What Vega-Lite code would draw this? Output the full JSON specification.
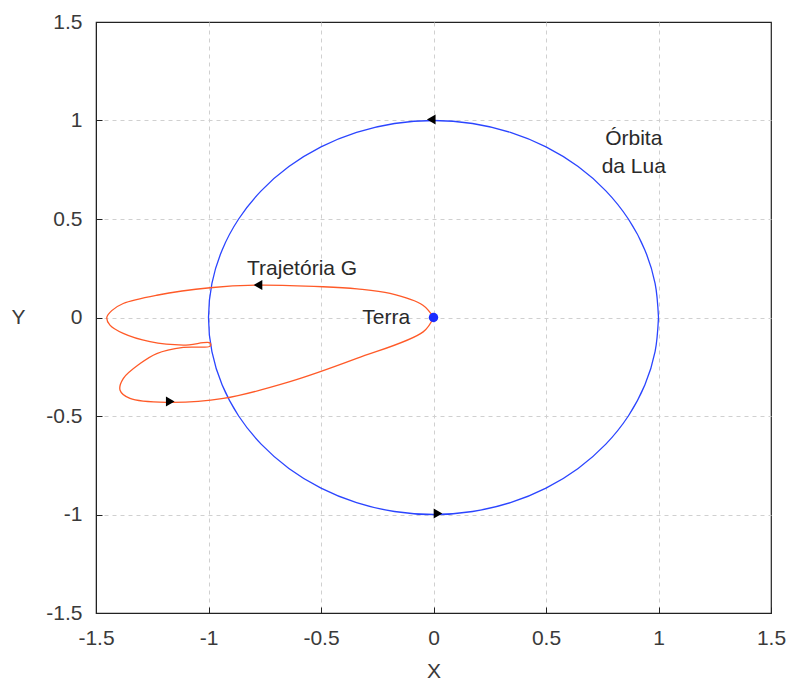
{
  "$schema": "https://vega.github.io/schema/vega-lite/v6.json",
  "width": 675,
  "height": 591,
  "autosize": "none",
  "padding": {"left": 96, "top": 22, "right": 20, "bottom": 73},
  "background": "white",
  "config": {
    "view": {"stroke": "#222", "strokeWidth": 1.2},
    "font": "Liberation Sans",
    "axis": {
      "labelFont": "Liberation Sans",
      "labelFontSize": 21,
      "labelColor": "#3a3a3a",
      "labelFlush": false,
      "labelOverlap": false,
      "titleFont": "Liberation Sans",
      "titleFontSize": 21,
      "titleFontWeight": "normal",
      "titleColor": "#3a3a3a",
      "domainColor": "#222",
      "tickColor": "#222",
      "tickSize": -6,
      "gridColor": "#d0d0d0",
      "gridDash": [4, 4],
      "gridWidth": 1,
      "gridOpacity": {"condition": {"test": "abs(datum.value) == 1.5", "value": 0}, "value": 1}
    }
  },
  "datasets": {
    "lines": [
      {"series": "lua", "order": 0, "x": 1.0, "y": 0.0},
      {"series": "lua", "order": 1, "x": 0.9848, "y": 0.1736},
      {"series": "lua", "order": 2, "x": 0.9397, "y": 0.342},
      {"series": "lua", "order": 3, "x": 0.866, "y": 0.5},
      {"series": "lua", "order": 4, "x": 0.766, "y": 0.6428},
      {"series": "lua", "order": 5, "x": 0.6428, "y": 0.766},
      {"series": "lua", "order": 6, "x": 0.5, "y": 0.866},
      {"series": "lua", "order": 7, "x": 0.342, "y": 0.9397},
      {"series": "lua", "order": 8, "x": 0.1736, "y": 0.9848},
      {"series": "lua", "order": 9, "x": 0.0, "y": 1.0},
      {"series": "lua", "order": 10, "x": -0.1736, "y": 0.9848},
      {"series": "lua", "order": 11, "x": -0.342, "y": 0.9397},
      {"series": "lua", "order": 12, "x": -0.5, "y": 0.866},
      {"series": "lua", "order": 13, "x": -0.6428, "y": 0.766},
      {"series": "lua", "order": 14, "x": -0.766, "y": 0.6428},
      {"series": "lua", "order": 15, "x": -0.866, "y": 0.5},
      {"series": "lua", "order": 16, "x": -0.9397, "y": 0.342},
      {"series": "lua", "order": 17, "x": -0.9848, "y": 0.1736},
      {"series": "lua", "order": 18, "x": -1.0, "y": 0.0},
      {"series": "lua", "order": 19, "x": -0.9848, "y": -0.1736},
      {"series": "lua", "order": 20, "x": -0.9397, "y": -0.342},
      {"series": "lua", "order": 21, "x": -0.866, "y": -0.5},
      {"series": "lua", "order": 22, "x": -0.766, "y": -0.6428},
      {"series": "lua", "order": 23, "x": -0.6428, "y": -0.766},
      {"series": "lua", "order": 24, "x": -0.5, "y": -0.866},
      {"series": "lua", "order": 25, "x": -0.342, "y": -0.9397},
      {"series": "lua", "order": 26, "x": -0.1736, "y": -0.9848},
      {"series": "lua", "order": 27, "x": 0.0, "y": -1.0},
      {"series": "lua", "order": 28, "x": 0.1736, "y": -0.9848},
      {"series": "lua", "order": 29, "x": 0.342, "y": -0.9397},
      {"series": "lua", "order": 30, "x": 0.5, "y": -0.866},
      {"series": "lua", "order": 31, "x": 0.6428, "y": -0.766},
      {"series": "lua", "order": 32, "x": 0.766, "y": -0.6428},
      {"series": "lua", "order": 33, "x": 0.866, "y": -0.5},
      {"series": "lua", "order": 34, "x": 0.9397, "y": -0.342},
      {"series": "lua", "order": 35, "x": 0.9848, "y": -0.1736},
      {"series": "lua", "order": 36, "x": 1.0, "y": 0.0}
    ],
    "traj": [
      {"order": 0, "x": 0.0, "y": 0.0},
      {"order": 1, "x": -0.047, "y": 0.062},
      {"order": 2, "x": -0.193, "y": 0.122},
      {"order": 3, "x": -0.34, "y": 0.145},
      {"order": 4, "x": -0.491, "y": 0.156},
      {"order": 5, "x": -0.786, "y": 0.164},
      {"order": 6, "x": -0.993, "y": 0.151},
      {"order": 7, "x": -1.23, "y": 0.113},
      {"order": 8, "x": -1.379, "y": 0.071},
      {"order": 9, "x": -1.43, "y": 0.035},
      {"order": 10, "x": -1.452, "y": 0.0},
      {"order": 11, "x": -1.438, "y": -0.039},
      {"order": 12, "x": -1.379, "y": -0.081},
      {"order": 13, "x": -1.26, "y": -0.123},
      {"order": 14, "x": -1.112, "y": -0.14},
      {"order": 15, "x": -0.993, "y": -0.129},
      {"order": 16, "x": -0.992, "y": -0.145},
      {"order": 17, "x": -1.112, "y": -0.152},
      {"order": 18, "x": -1.23, "y": -0.183},
      {"order": 19, "x": -1.304, "y": -0.234},
      {"order": 20, "x": -1.379, "y": -0.31},
      {"order": 21, "x": -1.393, "y": -0.369},
      {"order": 22, "x": -1.349, "y": -0.411},
      {"order": 23, "x": -1.186, "y": -0.431},
      {"order": 24, "x": -0.934, "y": -0.411},
      {"order": 25, "x": -0.638, "y": -0.326},
      {"order": 26, "x": -0.341, "y": -0.208},
      {"order": 27, "x": -0.046, "y": -0.073},
      {"order": 28, "x": 0.0, "y": 0.0}
    ],
    "arrows": [
      {"x": -0.01, "y": 1.005, "dir": "left"},
      {"x": 0.02, "y": -0.995, "dir": "right"},
      {"x": -0.78, "y": 0.165, "dir": "left"},
      {"x": -1.17, "y": -0.427, "dir": "right"}
    ],
    "labels": [
      {"x": 0.89, "y": 0.905, "text": "Órbita"},
      {"x": 0.89, "y": 0.765, "text": "da Lua"},
      {"x": -0.584, "y": 0.245, "text": "Trajetória G"},
      {"x": -0.21, "y": 0.0, "text": "Terra"}
    ],
    "earth": [{"x": 0.0, "y": 0.0}]
  },
  "layer": [
    {
      "data": {"name": "lines"},
      "mark": {"type": "line", "color": "#2b45ff", "strokeWidth": 1.3, "interpolate": "catmull-rom"},
      "encoding": {
        "x": {
          "field": "x", "type": "quantitative",
          "scale": {"domain": [-1.5, 1.5], "nice": false, "zero": false},
          "axis": {"values": [-1.5, -1, -0.5, 0, 0.5, 1, 1.5], "title": "X", "format": "~g", "labelFlush": false, "labelPadding": 20, "titlePadding": 12, "labelExpr": "replace(datum.label, '−', '-')"}
        },
        "y": {
          "field": "y", "type": "quantitative",
          "scale": {"domain": [-1.5, 1.5], "nice": false, "zero": false},
          "axis": {"values": [-1.5, -1, -0.5, 0, 0.5, 1, 1.5], "title": "Y", "format": "~g", "labelFlush": false, "titleAngle": 0, "titleAnchor": "middle", "titleBaseline": "middle", "titleX": -78, "labelPadding": 20, "labelExpr": "replace(datum.label, '−', '-')"}
        },
        "order": {"field": "order", "type": "quantitative"}
      }
    },
    {
      "data": {"name": "traj"},
      "mark": {"type": "line", "color": "#ff5a28", "strokeWidth": 1.3, "interpolate": "catmull-rom"},
      "encoding": {
        "x": {"field": "x", "type": "quantitative"},
        "y": {"field": "y", "type": "quantitative"},
        "order": {"field": "order", "type": "quantitative"}
      }
    },
    {
      "data": {"name": "arrows"},
      "mark": {"type": "point", "filled": true, "color": "black", "opacity": 1, "size": 100},
      "encoding": {
        "x": {"field": "x", "type": "quantitative"},
        "y": {"field": "y", "type": "quantitative"},
        "shape": {"field": "dir", "type": "nominal", "scale": {"domain": ["left", "right"], "range": ["triangle-left", "triangle-right"]}, "legend": null}
      }
    },
    {
      "data": {"name": "earth"},
      "mark": {"type": "point", "filled": true, "color": "#1a2cff", "opacity": 1, "size": 90},
      "encoding": {
        "x": {"field": "x", "type": "quantitative"},
        "y": {"field": "y", "type": "quantitative"}
      }
    },
    {
      "data": {"name": "labels"},
      "mark": {"type": "text", "font": "Liberation Sans", "fontSize": 21, "color": "#2a2a2a", "align": "center", "baseline": "middle"},
      "encoding": {
        "x": {"field": "x", "type": "quantitative"},
        "y": {"field": "y", "type": "quantitative"},
        "text": {"field": "text", "type": "nominal"}
      }
    }
  ]
}
